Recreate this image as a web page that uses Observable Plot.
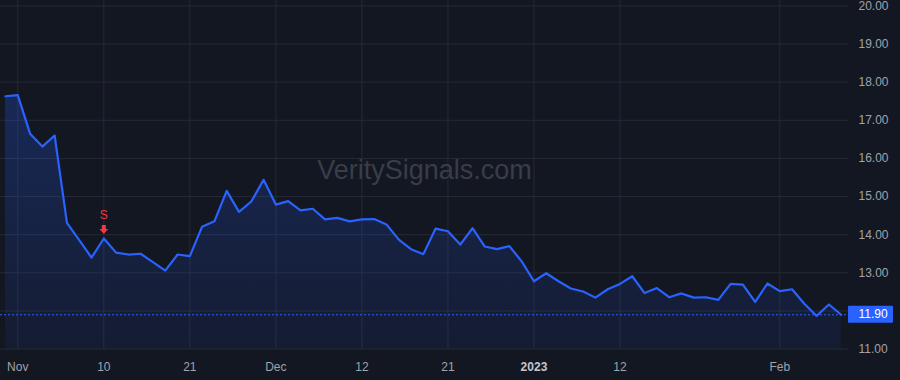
<!DOCTYPE html>
<html>
<head>
<meta charset="utf-8">
<script src="https://cdn.jsdelivr.net/npm/d3@7"></script>
<script src="https://cdn.jsdelivr.net/npm/@observablehq/plot@0.6"></script>
<style>
  html, body { margin: 0; padding: 0; background: #131722; }
  #chart { width: 900px; height: 380px; }
</style>
</head>
<body>
<div id="chart"></div>
<script>
// ---- data ----
const dates = [
  "2022-10-31",
  "2022-11-01","2022-11-02","2022-11-03","2022-11-04","2022-11-07","2022-11-08","2022-11-09","2022-11-10","2022-11-11",
  "2022-11-14","2022-11-15","2022-11-16","2022-11-17","2022-11-18","2022-11-21","2022-11-22","2022-11-23","2022-11-25",
  "2022-11-28","2022-11-29","2022-11-30",
  "2022-12-01","2022-12-02","2022-12-05","2022-12-06","2022-12-07","2022-12-08","2022-12-09","2022-12-12","2022-12-13",
  "2022-12-14","2022-12-15","2022-12-16","2022-12-19","2022-12-20","2022-12-21","2022-12-22","2022-12-23","2022-12-27",
  "2022-12-28","2022-12-29","2022-12-30",
  "2023-01-03","2023-01-04","2023-01-05","2023-01-06","2023-01-09","2023-01-10","2023-01-11","2023-01-12","2023-01-13",
  "2023-01-17","2023-01-18","2023-01-19","2023-01-20","2023-01-23","2023-01-24","2023-01-25","2023-01-26","2023-01-27",
  "2023-01-30","2023-01-31",
  "2023-02-01","2023-02-02","2023-02-03","2023-02-06","2023-02-07","2023-02-08"
];
const prices = [
  17.63, 17.66, 16.65, 16.31, 16.60, 14.31, 13.86, 13.40, 13.90, 13.53,
  13.48, 13.50, 13.28, 13.06, 13.48, 13.44, 14.21, 14.35, 15.15, 14.60,
  14.87, 15.44, 14.79, 14.88, 14.64, 14.68, 14.40, 14.44, 14.35, 14.40,
  14.41, 14.27, 13.87, 13.62, 13.49, 14.16, 14.09, 13.74, 14.17, 13.69,
  13.62, 13.70, 13.30, 12.78, 12.99, 12.78, 12.59, 12.51, 12.35, 12.57,
  12.71, 12.91, 12.47, 12.60, 12.36, 12.46, 12.35, 12.36, 12.29, 12.71,
  12.69, 12.24, 12.72, 12.52, 12.57, 12.19, 11.87, 12.17, 11.90
];
const xTickDates = ["2022-11-01","2022-11-10","2022-11-21","2022-12-01","2022-12-12","2022-12-21","2023-01-03","2023-01-12","2023-02-01"];
const xTickLabels = ["Nov","10","21","Dec","12","21","2023","12","Feb"];
const yTicks = [11, 12, 13, 14, 15, 16, 17, 18, 19, 20];
const signalDates = ["2022-11-10"];
const signalLabels = ["S"];
const lastPrice = 11.90;
const watermark = "VeritySignals.com";

// ---- derived tables ----
const rows = dates.map((d, i) => ({i, date: d, price: prices[i]}));
const xTickIdx = xTickDates.map(d => dates.indexOf(d));
const labelOf = new Map(xTickIdx.map((t, k) => [t, xTickLabels[k]]));
const signals = signalDates.map((d, k) => {
  const i = dates.indexOf(d);
  return {i, price: prices[i], label: signalLabels[k]};
});
const yLabelTicks = yTicks.filter(t => Math.abs(t - lastPrice) > 0.3);

const GRID = "#262a36";
const BLUE = "#2962ff";
const RED = "#f23645";

const arrowDown = {
  draw(ctx) {
    ctx.moveTo(-2, -4.5);
    ctx.lineTo(2, -4.5);
    ctx.lineTo(2, -0.5);
    ctx.lineTo(4.3, -0.5);
    ctx.lineTo(0, 4.5);
    ctx.lineTo(-4.3, -0.5);
    ctx.lineTo(-2, -0.5);
    ctx.closePath();
  }
};

const chart = Plot.plot({
  width: 900,
  height: 380,
  marginLeft: 0,
  marginRight: 52,
  marginTop: 0,
  marginBottom: 31.4,
  style: {
    background: "#131722",
    color: "#a0a3ab",
    fontSize: "12px",
    fontFamily: "'Liberation Sans', Arial, sans-serif"
  },
  x: {
    type: "linear",
    domain: [0, dates.length - 1],
    insetLeft: 5,
    insetRight: 7.3,
    ticks: xTickIdx,
    tickFormat: i => labelOf.get(i),
    tickSize: 0,
    tickPadding: 13,
    label: null
  },
  y: {
    domain: [yTicks[0], yTicks[yTicks.length - 1]],
    insetTop: 5.4,
    axis: "right",
    ticks: yLabelTicks,
    tickFormat: d => d.toFixed(2),
    tickSize: 0,
    tickPadding: 10,
    label: null
  },
  marks: [
    Plot.ruleY(yTicks, {stroke: GRID, strokeWidth: 1}),
    Plot.ruleX(xTickIdx, {stroke: GRID, strokeWidth: 1}),
    Plot.text([watermark], {frameAnchor: "middle", text: d => d, fontSize: 27, fill: "#393d49", dy: -4}),
    Plot.areaY(rows, {x: "i", y1: yTicks[0], y2: "price", fill: "url(#areaGrad)"}),
    Plot.lineY(rows, {x: "i", y: "price", stroke: BLUE, strokeWidth: 2.2, strokeLinejoin: "round"}),
    Plot.ruleY([lastPrice], {stroke: BLUE, strokeWidth: 1, strokeDasharray: "2,2"}),
    Plot.text(signals, {x: "i", y: "price", text: "label", fill: RED, fontSize: 12, dy: -23}),
    Plot.dot(signals, {x: "i", y: "price", symbol: arrowDown, fill: RED, stroke: "none", dy: -9, r: 5})
  ]
});

const svg = d3.select(chart);
const defs = svg.insert("defs", ":first-child");
const grad = defs.append("linearGradient").attr("id", "areaGrad")
  .attr("x1", 0).attr("y1", 0).attr("x2", 0).attr("y2", 1);
grad.append("stop").attr("offset", "0%").attr("stop-color", BLUE).attr("stop-opacity", 0.24);
grad.append("stop").attr("offset", "100%").attr("stop-color", BLUE).attr("stop-opacity", 0.07);

// bold year label
svg.selectAll("text").filter(function () { return this.textContent === "2023"; })
  .attr("font-weight", "bold").attr("fill", "#c3c6cd");

// last price badge, positioned through the y scale
const yPix = chart.scale("y").apply(lastPrice);
const frameRight = 900 - 52;
const badge = svg.append("g");
badge.append("rect")
  .attr("x", frameRight).attr("y", yPix - 8.5)
  .attr("width", 45).attr("height", 17)
  .attr("rx", 1).attr("fill", BLUE);
badge.append("text")
  .attr("x", frameRight + 10.5).attr("y", yPix).attr("dy", "0.35em")
  .attr("text-anchor", "start")
  .attr("fill", "#ffffff").attr("font-size", 12)
  .text(lastPrice.toFixed(2));

document.getElementById("chart").appendChild(chart);
</script>
</body>
</html>
